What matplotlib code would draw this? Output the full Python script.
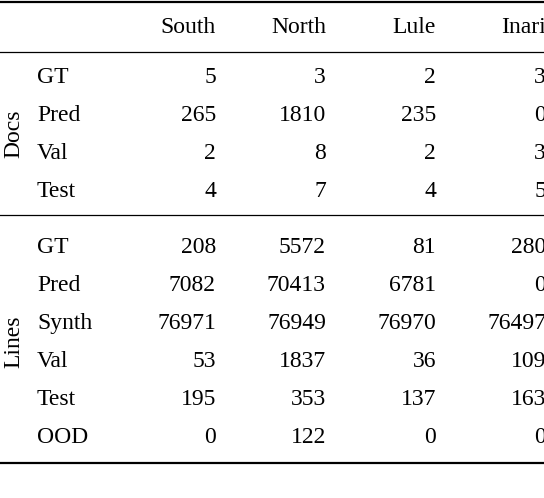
import matplotlib
matplotlib.use("Agg")
import matplotlib.pyplot as plt

columns = ["South", "North", "Lule", "Inari"]
docs_rows = ["GT", "Pred", "Val", "Test"]
docs_vals = [[5, 3, 2, 3], [265, 1810, 235, 0], [2, 8, 2, 3], [4, 7, 4, 5]]
lines_rows = ["GT", "Pred", "Synth", "Val", "Test", "OOD"]
lines_vals = [[208, 5572, 81, 280], [7082, 70413, 6781, 0],
              [76971, 76949, 76970, 76497], [53, 1837, 36, 109],
              [195, 353, 137, 163], [0, 122, 0, 0]]

plt.rcParams['font.family'] = ['Liberation Serif', 'DejaVu Serif']
fig = plt.figure(figsize=(5.44, 4.98), dpi=100)
ax = fig.add_axes([0, 0, 1, 1])
ax.set_xlim(0, 544); ax.set_ylim(498, 0); ax.axis('off')
fs = 17
col_x = [216, 326, 436, 546]
for x, c in zip(col_x, columns):
    ax.text(x, 27, c, ha='right', va='center', fontsize=fs)

def block(rows, vals, y0, label):
    for i, (r, v) in enumerate(zip(rows, vals)):
        y = y0 + i * 38
        ax.text(37, y, r, ha='left', va='center', fontsize=fs)
        for x, n in zip(col_x, v):
            ax.text(x, y, str(n), ha='right', va='center', fontsize=fs)
    yc = y0 + (len(rows) - 1) * 38 / 2
    ax.text(14, yc, label, rotation=90, ha='center', va='center', fontsize=fs)

block(docs_rows, docs_vals, 77, "Docs")
block(lines_rows, lines_vals, 247, "Lines")

ax.plot([0, 544], [2, 2], color='black', lw=1.6)
ax.plot([0, 544], [52, 52], color='black', lw=0.9)
ax.plot([0, 544], [215, 215], color='black', lw=0.9)
ax.plot([0, 544], [463, 463], color='black', lw=1.6)
fig.savefig("out.png", dpi=100)
